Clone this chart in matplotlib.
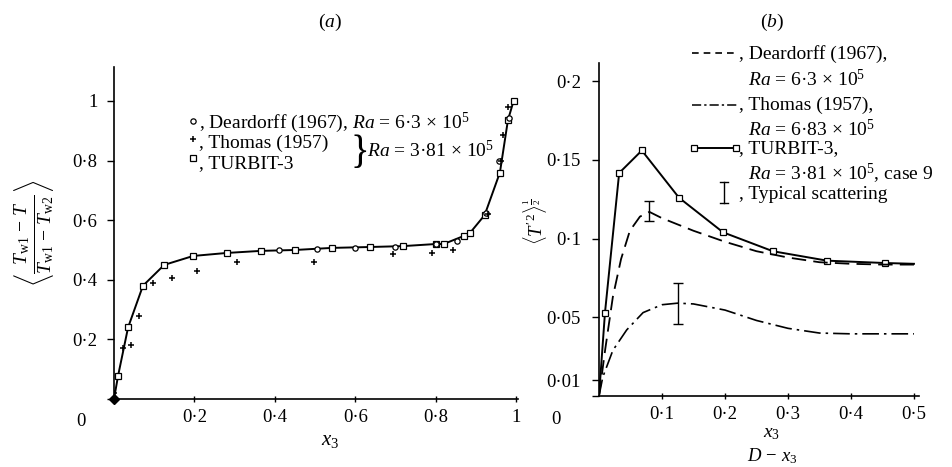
import matplotlib.pyplot as plt
from matplotlib.lines import Line2D

plt.rcParams['font.family'] = ['Liberation Serif', 'DejaVu Serif']
plt.rcParams['mathtext.fontset'] = 'custom'
plt.rcParams['mathtext.rm'] = 'Liberation Serif'
plt.rcParams['mathtext.it'] = 'Liberation Serif:italic'
plt.rcParams['mathtext.bf'] = 'Liberation Serif:bold'

# panel (a): mean temperature profile
turbit_a_x = [0, 0.01, 0.035, 0.072, 0.125, 0.197, 0.28, 0.365, 0.45, 0.542, 0.636, 0.719,
              0.80, 0.82, 0.87, 0.886, 0.922, 0.96, 0.98, 0.994]
turbit_a_y = [0, 0.077, 0.24, 0.38, 0.45, 0.48, 0.49, 0.497, 0.50, 0.507, 0.51, 0.513,
              0.52, 0.52, 0.547, 0.558, 0.617, 0.76, 0.936, 1.0]
deard_a_x = [0.41, 0.505, 0.60, 0.70, 0.80, 0.853, 0.925, 0.957, 0.982]
deard_a_y = [0.50, 0.503, 0.505, 0.51, 0.52, 0.53, 0.625, 0.80, 0.943]
thomas_a_x = [0.0, 0.022, 0.042, 0.062, 0.097, 0.144, 0.206, 0.305, 0.498, 0.694, 0.79,
              0.843, 0.93, 0.962, 0.967, 0.98]
thomas_a_y = [0.02, 0.17, 0.18, 0.28, 0.39, 0.405, 0.43, 0.46, 0.46, 0.485, 0.49,
              0.50, 0.62, 0.80, 0.886, 0.98]

# panel (b): rms temperature fluctuation
turbit_b_x = [0, 0.0095, 0.032, 0.068, 0.127, 0.197, 0.276, 0.362, 0.454, 0.5]
turbit_b_y = [0, 0.053, 0.1417, 0.156, 0.126, 0.104, 0.092, 0.086, 0.0845, 0.084]
deard_b_x = [0, 0.01, 0.022, 0.035, 0.049, 0.065, 0.08, 0.1, 0.15, 0.2, 0.25, 0.3,
             0.35, 0.4, 0.45, 0.5]
deard_b_y = [0, 0.03, 0.063, 0.087, 0.105, 0.114, 0.117, 0.113, 0.105, 0.098, 0.092,
             0.088, 0.085, 0.084, 0.0835, 0.0835]
thomas_b_x = [0, 0.006, 0.022, 0.044, 0.07, 0.1, 0.125, 0.15, 0.2, 0.25, 0.3, 0.35,
              0.4, 0.45, 0.5]
thomas_b_y = [0, 0.012, 0.029, 0.042, 0.053, 0.058, 0.059, 0.0585, 0.0546, 0.048,
              0.043, 0.040, 0.0395, 0.0395, 0.0395]
scatter_x = [0.08, 0.125]
scatter_y = [0.1175, 0.059]
scatter_lo = [0.006, 0.013]
scatter_hi = [0.0065, 0.013]

xticks_a = [0.2, 0.4, 0.6, 0.8, 1.0]
xlabels_a = ['0·2', '0·4', '0·6', '0·8', '1']
yticks_a = [0, 0.2, 0.4, 0.6, 0.8, 1.0]
ylabels_a = ['', '0·2', '0·4', '0·6', '0·8', '1']
xticks_b = [0.1, 0.2, 0.3, 0.4, 0.5]
xlabels_b = ['0·1', '0·2', '0·3', '0·4', '0·5']
yticks_b = [0, 0.01, 0.05, 0.1, 0.15, 0.2]
ylabels_b = ['', '0·01', '0·05', '0·1', '0·15', '0·2']

W, H = 953, 467
fig = plt.figure(figsize=(W / 100, H / 100), dpi=100)


def fx(px):
    return px / W


def fy(py):
    return 1 - py / H


axa = fig.add_axes([fx(114), fy(399), (518 - 114) / W, (399 - 67) / H])
axb = fig.add_axes([fx(599), fy(396), (919 - 599) / W, (396 - 63) / H])

for ax, ypad in ((axa, 7), (axb, 8)):
    ax.spines['top'].set_visible(False)
    ax.spines['right'].set_visible(False)
    ax.spines['left'].set_linewidth(1.2)
    ax.spines['bottom'].set_linewidth(1.2)
    ax.tick_params(axis='y', direction='out', length=5, width=1, labelsize=13.5, pad=ypad)
    ax.tick_params(axis='x', direction='inout', length=5, width=1, labelsize=13.5, pad=5)

mk = dict(color='black', mfc='white', mec='black', mew=0.9)

# (a)
axa.plot(turbit_a_x, turbit_a_y, '-', lw=1.4, marker='s', ms=4.5,
         markevery=list(range(1, len(turbit_a_x))), **mk)
axa.plot(deard_a_x, deard_a_y, 'o', ms=3.8, **mk)
axa.plot(thomas_a_x, thomas_a_y, '+', color='black', ms=5, mew=1.1)
axa.plot([0], [0], 'D', color='black', ms=5, clip_on=False)
axa.set_xlim(0, 1.005)
axa.set_ylim(0, 1.114)
axa.set_xticks(xticks_a)
axa.set_xticklabels(xlabels_a)
axa.set_yticks(yticks_a)
axa.set_yticklabels(ylabels_a)

# (b)
axb.plot(turbit_b_x, turbit_b_y, '-', lw=1.4, marker='s', ms=4.5,
         markevery=list(range(1, len(turbit_b_x) - 1)), **mk)
axb.plot(deard_b_x, deard_b_y, color='black', lw=1.3, dashes=(8, 4))
axb.plot(thomas_b_x, thomas_b_y, color='black', lw=1.2, dashes=(10, 3, 1.5, 3))
axb.errorbar(scatter_x, scatter_y, yerr=[scatter_lo, scatter_hi], fmt='none',
             ecolor='black', elinewidth=1, capsize=3.5, capthick=1)
axb.set_xlim(0, 0.508)
axb.set_ylim(0, 0.2116)
axb.set_xticks(xticks_b)
axb.set_xticklabels(xlabels_b)
axb.set_yticks(yticks_b)
axb.set_yticklabels(ylabels_b)

# titles, axis labels
fig.text(fx(330), fy(22), '($a$)', ha='center', va='center', fontsize=14)
fig.text(fx(772), fy(22), '($b$)', ha='center', va='center', fontsize=14)
fig.text(fx(81), fy(421), '0', ha='center', va='center', fontsize=13.5)
fig.text(fx(556), fy(419), '0', ha='center', va='center', fontsize=13.5)
fig.text(fx(330), fy(440), '$x_3$', ha='center', va='center', fontsize=15)
fig.text(fx(772), fy(433), '$x_3$', ha='center', va='center', fontsize=14)
fig.text(fx(772), fy(466), r'$D\,-\,x_3$', ha='center', va='bottom', fontsize=13.5)
fig.text(fx(34), fy(233),
         r'$\left\langle\frac{T_{\mathrm{w}1}\,-\,T}{T_{\mathrm{w}1}\,-\,T_{\mathrm{w}2}}\right\rangle$',
         rotation=90, ha='center', va='center', fontsize=20)
fig.text(fx(535), fy(222), r"$\langle T'^{2}\rangle^{\frac{1}{2}}$",
         rotation=90, ha='center', va='center', fontsize=13.5)

# key of (a)
fs = 14
fig.add_artist(Line2D([fx(193)], [fy(121)], marker='o', ms=3.8, ls='none', **mk))
fig.add_artist(Line2D([fx(193)], [fy(139)], marker='+', ms=5, mew=1.1, color='black', ls='none'))
fig.add_artist(Line2D([fx(193)], [fy(158)], marker='s', ms=4.5, ls='none', **mk))
fig.text(fx(199), fy(128), r', Deardorff (1967), $Ra$ = 6·3 × 10$^5$', va='baseline', fontsize=fs)
fig.text(fx(199), fy(148), ', Thomas (1957)', va='baseline', fontsize=fs)
fig.text(fx(199), fy(168), ', TURBIT-3', va='baseline', fontsize=fs)
fig.text(fx(350), fy(153), '}', va='center', fontsize=28)
fig.text(fx(367), fy(157), r'$Ra$ = 3·81 × 10$^5$', va='baseline', fontsize=fs)

# key of (b)
fig.add_artist(Line2D([fx(692), fx(738)], [fy(53), fy(53)], color='black', lw=1.2, dashes=(4, 3)))
fig.add_artist(Line2D([fx(692), fx(738)], [fy(105), fy(105)], color='black', lw=1.1,
                      dashes=(6, 2, 1.5, 2)))
fig.add_artist(Line2D([fx(694), fx(736)], [fy(148), fy(148)], color='black', lw=1.4))
fig.add_artist(Line2D([fx(694), fx(736)], [fy(148), fy(148)], marker='s', ms=4.5, ls='none', **mk))
fig.add_artist(Line2D([fx(724), fx(724)], [fy(182), fy(203)], color='black', lw=1))
fig.add_artist(Line2D([fx(720), fx(728)], [fy(182), fy(182)], color='black', lw=1))
fig.add_artist(Line2D([fx(720), fx(728)], [fy(203), fy(203)], color='black', lw=1))
fig.text(fx(739), fy(59), ', Deardorff (1967),', va='baseline', fontsize=fs)
fig.text(fx(748), fy(86), r'$Ra$ = 6·3 × 10$^5$', va='baseline', fontsize=fs)
fig.text(fx(739), fy(110), ', Thomas (1957),', va='baseline', fontsize=fs)
fig.text(fx(748), fy(136), r'$Ra$ = 6·83 × 10$^5$', va='baseline', fontsize=fs)
fig.text(fx(739), fy(153), ', TURBIT-3,', va='baseline', fontsize=fs)
fig.text(fx(748), fy(180), r'$Ra$ = 3·81 × 10$^5$, case 9', va='baseline', fontsize=fs)
fig.text(fx(739), fy(199), ', Typical scattering', va='baseline', fontsize=fs)

fig.savefig('out.png', dpi=100)
